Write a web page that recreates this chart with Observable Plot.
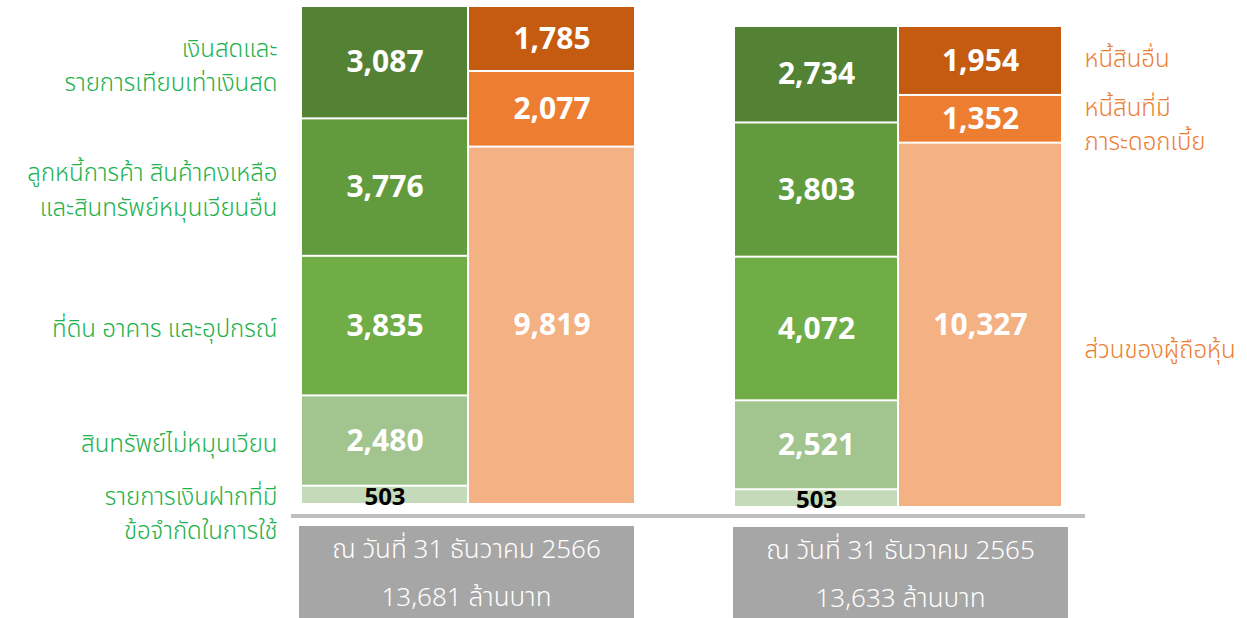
<!DOCTYPE html>
<html>
<head>
<meta charset="utf-8">
<script src="https://cdn.jsdelivr.net/npm/d3@7"></script>
<script src="https://cdn.jsdelivr.net/npm/@observablehq/plot@0.6"></script>
<style>
  html, body { margin: 0; padding: 0; background: #fff; }
  #wrap { position: relative; width: 1247px; height: 618px; overflow: hidden;
    font-family: "Noto Sans Thai", "Noto Sans", "DejaVu Sans", sans-serif; }
  #wrap svg { position: absolute; left: 0; top: 0; background: transparent; }
  .rule { position: absolute; left: 291px; top: 514px; width: 794px; height: 4px; background: #BFBFBF; }
  .box { position: absolute; width: 335px; background: #A6A6A6; color: #fff; text-align: center;
    font-size: 26px; font-weight: 300; line-height: 48px; }
</style>
</head>
<body>
<div id="wrap">
  <div class="rule"></div>
  <div class="box" id="box0" style="left:299px; top:526px; height:92px;"></div>
  <div class="box" id="box1" style="left:733px; top:527px; height:91px;"></div>
</div>
<script>
// ---- data ----
const periods = ["ณ วันที่ 31 ธันวาคม 2566", "ณ วันที่ 31 ธันวาคม 2565"];
const sides = ["สินทรัพย์", "หนี้สินและส่วนของผู้ถือหุ้น"];
const assetLabels = [
  "เงินสดและ\nรายการเทียบเท่าเงินสด",
  "ลูกหนี้การค้า สินค้าคงเหลือ\nและสินทรัพย์หมุนเวียนอื่น",
  "ที่ดิน อาคาร และอุปกรณ์",
  "สินทรัพย์ไม่หมุนเวียน",
  "รายการเงินฝากที่มี\nข้อจำกัดในการใช้"
];
const assets2566 = [3087, 3776, 3835, 2480, 503];
const assets2565 = [2734, 3803, 4072, 2521, 503];
const liabLabels = ["หนี้สินอื่น", "หนี้สินที่มี\nภาระดอกเบี้ย", "ส่วนของผู้ถือหุ้น"];
const liabs2566 = [1785, 2077, 9819];
const liabs2565 = [1954, 1352, 10327];
const assetColors = ["#548235", "#629B3E", "#70AD47", "#A2C48F", "#C5DAB9"];
const liabColors = ["#C55A11", "#ED7D31", "#F4B183"];
const unit = "ล้านบาท";

const fmt = d3.format(",");
const FONT = '"Noto Sans Thai", "Noto Sans", "DejaVu Sans", sans-serif';

function rows(assets, liabs) {
  const a = assets.map((v, i) => ({side: sides[0], label: assetLabels[i], value: v, color: assetColors[i], idx: i}));
  const l = liabs.map((v, i) => ({side: sides[1], label: liabLabels[i], value: v, color: liabColors[i], idx: i}));
  return {a, l, all: a.concat(l)};
}

function panel({assets, liabs, range, top, bottom, leftLabels, rightLabels}) {
  const {a, l, all} = rows(assets, liabs);
  const total = d3.sum(assets);
  const lab = {fontSize: 24, lineHeight: 1.42, fontWeight: 300, fontFamily: FONT};
  const marks = [
    Plot.barY(all, Plot.stackY({x: "side", y: "value", fill: "color", reverse: true,
      insetTop: 1, insetBottom: 1})),
    Plot.text(all, Plot.stackY({x: "side", y: "value", reverse: true,
      text: d => d.value >= 1000 ? fmt(d.value) : null,
      fill: "white", fontSize: 30, fontWeight: "bold", fontFamily: FONT})),
    Plot.text(all, Plot.stackY({x: "side", y: "value", reverse: true,
      text: d => d.value < 1000 ? fmt(d.value) : null,
      fill: "black", fontSize: 24, fontWeight: "bold", fontFamily: FONT, dy: 2}))
  ];
  if (leftLabels) {
    marks.push(Plot.text(a, Plot.stackY({y: "value", reverse: true,
      text: d => d.idx < a.length - 1 ? d.label : null,
      frameAnchor: "left", textAnchor: "end", dx: -24, fill: "#22B14C", ...lab})));
    marks.push(Plot.text(a, Plot.stackY({y: "value", reverse: true,
      text: d => d.idx === a.length - 1 ? d.label : null,
      frameAnchor: "left", textAnchor: "end", dx: -24, dy: 16, fill: "#22B14C", ...lab})));
  }
  if (rightLabels) {
    marks.push(Plot.text(l, Plot.stackY({y: "value", reverse: true,
      text: d => d.idx === 0 ? d.label : null,
      frameAnchor: "right", textAnchor: "start", dx: 22, dy: -5, fill: "#ED7D31", ...lab})));
    marks.push(Plot.text(l, Plot.stackY({y: "value", reverse: true,
      text: d => d.idx === 1 ? d.label : null,
      frameAnchor: "right", textAnchor: "start", dx: 22, dy: 3, fill: "#ED7D31", ...lab})));
    marks.push(Plot.text(l, Plot.stackY({y: "value", reverse: true,
      text: d => d.idx === 2 ? d.label : null,
      frameAnchor: "right", textAnchor: "start", dx: 22, dy: 22, fill: "#ED7D31", ...lab})));
  }
  return Plot.plot({
    width: 1247, height: 618,
    marginLeft: range[0], marginRight: 1247 - range[1],
    marginTop: top, marginBottom: 618 - bottom,
    style: {background: "transparent", fontFamily: FONT, overflow: "visible"},
    x: {domain: sides, paddingInner: 0.012, paddingOuter: 0, axis: null},
    y: {domain: [0, total], axis: null},
    marks
  });
}

const wrap = document.getElementById("wrap");
wrap.appendChild(panel({assets: assets2566, liabs: liabs2566, range: [301, 634], top: 6, bottom: 504, leftLabels: true}));
wrap.appendChild(panel({assets: assets2565, liabs: liabs2565, range: [735, 1062], top: 26, bottom: 507, rightLabels: true}));

[[assets2566, 0], [assets2565, 1]].forEach(([vals, i]) => {
  const box = document.getElementById("box" + i);
  box.innerHTML = `<div>${periods[i]}</div><div>${fmt(d3.sum(vals))} ${unit}</div>`;
});
</script>
</body>
</html>
